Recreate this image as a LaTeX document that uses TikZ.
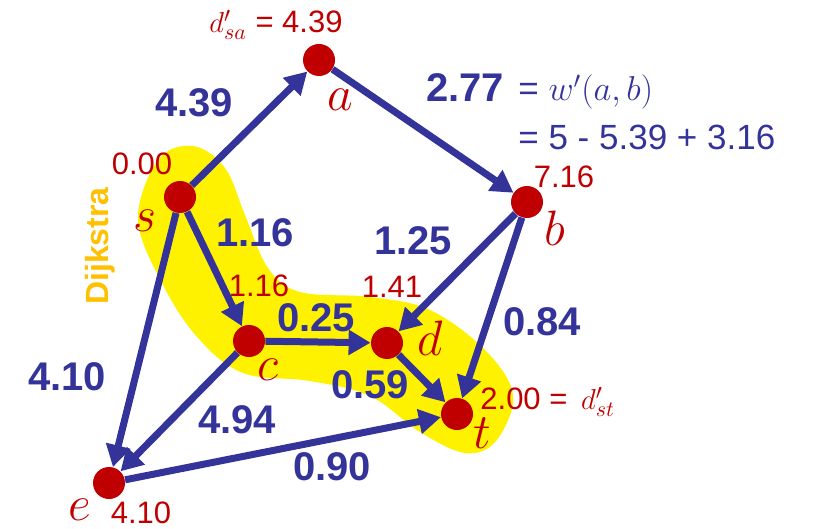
\documentclass[tikz,border=0pt]{standalone}
\usepackage{fontspec}
\setmainfont{Liberation Sans}
\usetikzlibrary{arrows.meta}
\definecolor{edgeblue}{RGB}{51,51,153}
\definecolor{nodered}{RGB}{192,0,0}
\definecolor{dijkgold}{RGB}{255,192,0}
\def\nodeSize{16pt}
\def\wSize{20}
\def\dSize{15.5}

\begin{document}
\begin{tikzpicture}[
    x=0.5pt, y=-0.5pt,
    >={Triangle[length=11pt,width=12pt]},
    vertex/.style={circle, fill=nodered, inner sep=0pt, minimum size=\nodeSize},
    edge/.style={->, draw=edgeblue, line width=3.5pt},
    weight/.style={text=edgeblue, inner sep=0pt, font=\fontsize{\wSize}{\wSize}\selectfont\bfseries},
    dist/.style={text=nodered, inner sep=0pt, font=\fontsize{\dSize}{\dSize}\selectfont},
    vname/.style={text=nodered, inner sep=0pt, font=\fontsize{26}{26}\selectfont}
]
\useasboundingbox (0,0) rectangle (818,529);

% highlighted shortest path
\fill[yellow] plot[smooth cycle, tension=0.6] coordinates {
    (193,146) (225,168) (245,215) (268,268) (300,292) (370,297)
    (430,310) (485,350) (513,395) (496,441) (465,453) (420,432)
    (370,396) (310,381) (243,373) (198,338) (163,285) (138,220) (158,160)};

\node[rotate=90, text=dijkgold, font=\fontsize{16}{16}\selectfont\bfseries] (dijk) at (100,246) {Dijkstra};

% vertices
\node[vertex] (s) at (180,197) {};
\node[vertex] (a) at (319,60) {};
\node[vertex] (b) at (527,202) {};
\node[vertex] (c) at (249,341) {};
\node[vertex] (d) at (387,343) {};
\node[vertex] (t) at (457,414) {};
\node[vertex] (e) at (109,483) {};

% edges
\draw[edge] (s) -- (a);
\draw[edge] (a) -- (b);
\draw[edge] (s) -- (c);
\draw[edge] (s) -- (e);
\draw[edge] (b) -- (d);
\draw[edge] (b) -- (t);
\draw[edge] (c) -- (d);
\draw[edge] (c) -- (e);
\draw[edge] (d) -- (t);
\draw[edge] (e) -- (t);

% vertex names
\node[vname] (ns) at (145,221) {$s$};
\node[vname] (na) at (340,100) {$a$};
\node[vname] (nb) at (555,228) {$b$};
\node[vname] (nc) at (268,370) {$c$};
\node[vname] (nd) at (430,338) {$d$};
\node[vname] (nt) at (482,433) {$t$};
\node[vname] (ne) at (80,510) {$e$};

% distances
\node[dist] (ds) at (142,164) {0.00};
\node[dist] (da) at (276,25) {$d'_{sa}$ = 4.39};
\node[dist] (db) at (564,177) {7.16};
\node[dist] (dc) at (259,286) {1.16};
\node[dist] (dd) at (392,287) {1.41};
\node[dist, anchor=west] (dt) at (480,402) {2.00 = \,$d'_{st}$};
\node[dist] (de) at (141,513) {4.10};

% edge weights
\node[weight] (wsa) at (194,103) {4.39};
\node[weight] (wab) at (465,88) {2.77};
\node[weight] (wsc) at (255,233) {1.16};
\node[weight] (wbd) at (413,241) {1.25};
\node[weight] (wcd) at (316,318) {0.25};
\node[weight] (wbt) at (542,322) {0.84};
\node[weight] (wse) at (67,377) {4.10};
\node[weight] (wce) at (237,420) {4.94};
\node[weight] (wdt) at (370,385) {0.59};
\node[weight] (wet) at (332,467) {0.90};

% reweighting note
\node[text=edgeblue, inner sep=0pt, anchor=west, font=\fontsize{17.5}{17.5}\selectfont] (wprime) at (518,92) {= $w'(a,b)$};
\node[text=edgeblue, inner sep=0pt, anchor=west, font=\fontsize{17.5}{17.5}\selectfont] (wcalc) at (518,137) {= 5 - 5.39 + 3.16};
\end{tikzpicture}
\end{document}
